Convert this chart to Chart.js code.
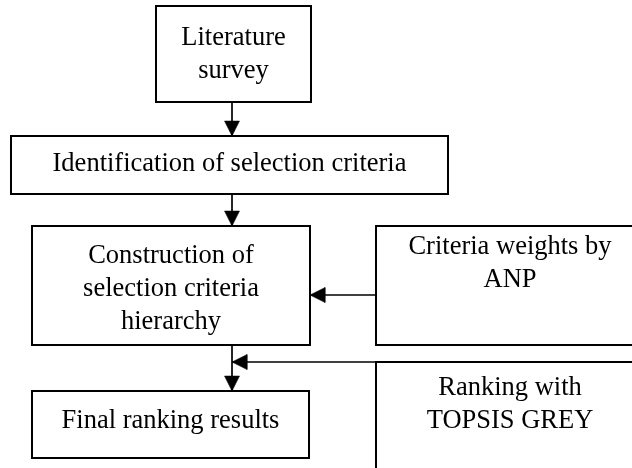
<!DOCTYPE html>
<html><head><meta charset="utf-8">
<script src="https://cdn.jsdelivr.net/npm/chart.js@4"></script>
<style>html,body{margin:0;padding:0;background:#fff;}#wrap{width:632px;height:468px;position:relative;}</style>
</head><body><div id="wrap"><canvas id="c"></canvas></div>
<script>
// Flowchart nodes (chart units = pixels of the 632x468 plane)
const nodeLines = [["Literature","survey"],["Identification of selection criteria"],["Construction of","selection criteria","hierarchy"],["Criteria weights by","ANP"],["Final ranking results"],["Ranking with","TOPSIS GREY"]];
const nodeLeft   = [156, 11, 32, 376, 32, 376];
const nodeRight  = [311, 448, 310, 650, 309, 650];
const nodeTop    = [6, 136, 226, 226, 391, 362];
const nodeBottom = [102, 194, 345, 345, 458, 480];
const textCenterX = [233.5, 229.5, 171, 510, 170.5, 510];
const textFirstY  = [38.5, 164.5, 256.5, 247.5, 421, 388.5];
// Connectors (arrows): start point and arrow tip
const linkFromX = [232, 232, 376, 232, 650];
const linkFromY = [102, 194, 295, 345, 362];
const linkToX   = [232, 232, 310, 232, 232];
const linkToY   = [136, 226, 295, 391, 362];

const LINE_H = 33;
const HEAD_LEN = 15;
const HEAD_HALF = 7.5;
const FONT = '26.5px "Liberation Serif", "Times New Roman", serif';

const datasets = [];
for (let i = 0; i < nodeLines.length; i++) {
  const l = nodeLeft[i], r = nodeRight[i], t = nodeTop[i], b = nodeBottom[i];
  datasets.push({
    type: 'scatter', showLine: true, fill: false, tension: 0,
    data: [{x:l,y:t},{x:r,y:t},{x:r,y:b},{x:l,y:b},{x:l,y:t}],
    borderColor: '#000', borderWidth: 2, pointRadius: 0,
    borderJoinStyle: 'miter', borderCapStyle: 'square'
  });
}
for (let i = 0; i < linkFromX.length; i++) {
  datasets.push({
    type: 'scatter', showLine: true, fill: false, tension: 0,
    data: [{x:linkFromX[i],y:linkFromY[i]},{x:linkToX[i],y:linkToY[i]}],
    borderColor: '#000', borderWidth: 1.7, pointRadius: 0
  });
  const dx = linkToX[i]-linkFromX[i], dy = linkToY[i]-linkFromY[i];
  const len = Math.hypot(dx, dy), ux = dx/len, uy = dy/len;
  const bx = linkToX[i] - ux*HEAD_LEN, by = linkToY[i] - uy*HEAD_LEN;
  datasets.push({
    type: 'scatter', showLine: true, tension: 0, fill: 'shape',
    data: [
      {x: linkToX[i], y: linkToY[i]},
      {x: bx - uy*HEAD_HALF, y: by + ux*HEAD_HALF},
      {x: bx + uy*HEAD_HALF, y: by - ux*HEAD_HALF},
      {x: linkToX[i], y: linkToY[i]}
    ],
    borderColor: '#000', backgroundColor: '#000', borderWidth: 0.5, pointRadius: 0
  });
}

const textPlugin = {
  id: 'nodeText',
  afterDatasetsDraw(chart) {
    const ctx = chart.ctx, xs = chart.scales.x, ys = chart.scales.y;
    ctx.save();
    ctx.font = FONT; ctx.fillStyle = '#000';
    ctx.textAlign = 'center'; ctx.textBaseline = 'middle';
    nodeLines.forEach((lines, i) => {
      lines.forEach((s, j) => {
        ctx.fillText(s, xs.getPixelForValue(textCenterX[i]), ys.getPixelForValue(textFirstY[i] + j*LINE_H));
      });
    });
    ctx.restore();
  }
};

new Chart(document.getElementById('c'), {
  type: 'scatter',
  data: { datasets },
  options: {
    responsive: true, maintainAspectRatio: false, animation: false, events: [],
    layout: { padding: 0, autoPadding: false },
    plugins: { legend: {display:false}, tooltip: {enabled:false}, title: {display:false}, filler: {propagate: false} },
    scales: {
      x: { type: 'linear', min: 0, max: 632, display: false },
      y: { type: 'linear', min: 0, max: 468, reverse: true, display: false }
    }
  },
  plugins: [textPlugin]
});
</script></body></html>
